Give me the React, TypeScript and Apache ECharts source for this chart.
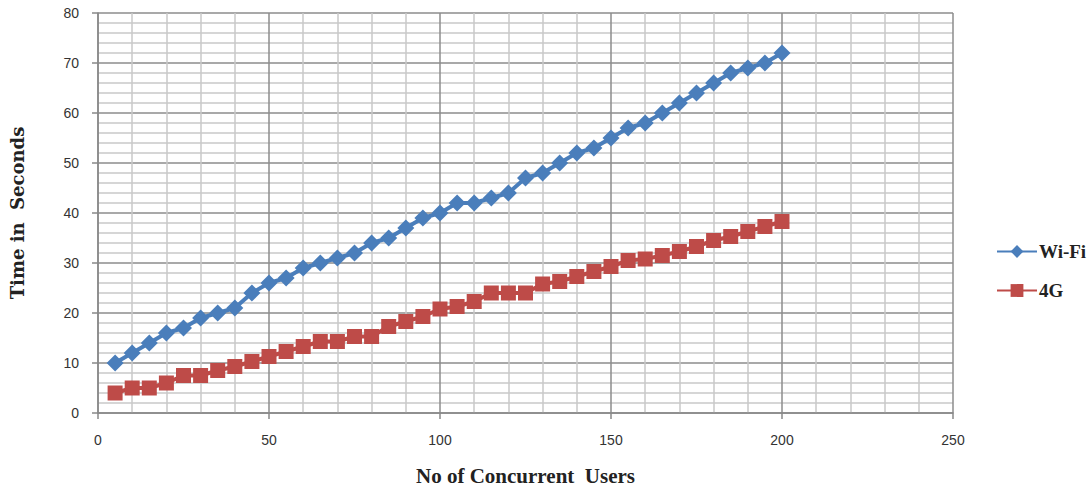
import React, { useEffect, useRef } from "react";
import * as echarts from "echarts";

const users = [5, 10, 15, 20, 25, 30, 35, 40, 45, 50, 55, 60, 65, 70, 75, 80, 85, 90, 95, 100, 105, 110, 115, 120, 125, 130, 135, 140, 145, 150, 155, 160, 165, 170, 175, 180, 185, 190, 195, 200];
const wifi = [10, 12, 14, 16, 17, 19, 20, 21, 24, 26, 27, 29, 30, 31, 32, 34, 35, 37, 39, 40, 42, 42, 43, 44, 47, 48, 50, 52, 53, 55, 57, 58, 60, 62, 64, 66, 68, 69, 70, 72];
const g4 = [4, 5, 5, 6, 7.5, 7.5, 8.5, 9.3, 10.3, 11.3, 12.3, 13.3, 14.3, 14.3, 15.3, 15.3, 17.3, 18.3, 19.3, 20.8, 21.3, 22.3, 24, 24, 24, 25.8, 26.3, 27.3, 28.3, 29.3, 30.5, 30.8, 31.5, 32.3, 33.3, 34.5, 35.3, 36.3, 37.3, 38.3];
const seriesNames = ["Wi-Fi", "4G"];
const xTitle = "No of Concurrent  Users";
const yTitle = "Time in  Seconds";

export default function App() {
  const ref = useRef<HTMLDivElement>(null);
  useEffect(() => {
    if (!ref.current) return;
    const chart = echarts.init(ref.current, null, { renderer: "svg" });
    const serif = "'Liberation Serif', 'Times New Roman', serif";
    const slab = "'DejaVu Serif', serif";
    const sans = "'Liberation Sans', Arial, sans-serif";
    chart.setOption({
      animation: false,
      backgroundColor: "#ffffff",
      grid: { left: 92, right: 139, top: 13, bottom: 72 },
      legend: {
        orient: "vertical",
        left: 991,
        top: 237,
        itemGap: 20,
        itemWidth: 40,
        itemHeight: 16,
        textStyle: { fontFamily: serif, fontWeight: "bold", fontSize: 19, color: "#222", padding: [0, 0, 0, -3] },
        data: seriesNames,
      },
      xAxis: {
        type: "value",
        min: 0,
        max: 250,
        interval: 50,
        name: xTitle,
        nameLocation: "middle",
        nameGap: 52,
        nameTextStyle: { fontFamily: serif, fontWeight: "bold", fontSize: 21, color: "#222" },
        axisLine: { show: true, lineStyle: { color: "#888", width: 1.5 } },
        axisTick: { show: true, length: 6, lineStyle: { color: "#888", width: 1.5 } },
        axisLabel: { fontFamily: sans, fontSize: 14, color: "#333", margin: 20 },
        splitLine: { show: true, lineStyle: { color: "#8c8c8c", width: 1.5 } },
        minorTick: { show: false, splitNumber: 5 },
        minorSplitLine: { show: true, lineStyle: { color: "#c8c8c8", width: 1.5 } },
      },
      yAxis: {
        type: "value",
        min: 0,
        max: 80,
        interval: 10,
        name: yTitle,
        nameLocation: "middle",
        nameGap: 72,
        nameTextStyle: { fontFamily: slab, fontWeight: "bold", fontSize: 18, color: "#222" },
        axisLine: { show: true, lineStyle: { color: "#888", width: 1.5 } },
        axisTick: { show: true, length: 6, lineStyle: { color: "#888", width: 1.5 } },
        axisLabel: { fontFamily: sans, fontSize: 14, color: "#333", margin: 19 },
        splitLine: { show: true, lineStyle: { color: "#8c8c8c", width: 1.5 } },
        minorTick: { show: false, splitNumber: 5 },
        minorSplitLine: { show: true, lineStyle: { color: "#c8c8c8", width: 1.5 } },
      },
      series: [
        {
          name: seriesNames[0],
          type: "line",
          data: users.map((u, i) => [u, wifi[i]]),
          symbol: "diamond",
          symbolSize: 17,
          showAllSymbol: true,
          itemStyle: { color: "#4a7ebb" },
          lineStyle: { color: "#4a7ebb", width: 4 },
        },
        {
          name: seriesNames[1],
          type: "line",
          data: users.map((u, i) => [u, g4[i]]),
          symbol: "rect",
          symbolSize: 15,
          showAllSymbol: true,
          itemStyle: { color: "#be4b48" },
          lineStyle: { color: "#be4b48", width: 4 },
        },
      ],
    });
    return () => chart.dispose();
  }, []);
  return (
    <div
      ref={ref}
      style={{ position: "fixed", left: 0, top: 0, width: 1092, height: 491 }}
    />
  );
}
